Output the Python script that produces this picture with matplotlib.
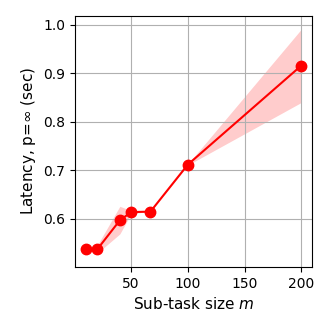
import numpy as np
import matplotlib
matplotlib.use('Agg')
import matplotlib.pyplot as plt

# Data
m = [10, 20, 40, 50, 67, 100, 200]
latency = [0.537, 0.537, 0.597, 0.614, 0.615, 0.712, 0.916]
lower = [0.537, 0.529, 0.569, 0.611, 0.615, 0.711, 0.840]
upper = [0.537, 0.545, 0.626, 0.617, 0.615, 0.713, 0.991]

fig = plt.figure(figsize=(3.32, 3.32), dpi=100)
ax = fig.add_axes([0.226, 0.196, 0.714, 0.757])

ax.fill_between(m, lower, upper, color='red', alpha=0.2, linewidth=0)
ax.plot(m, latency, color='red', marker='o', markersize=7.5, linewidth=1.5)

ax.set_xlabel('Sub-task size $m$', fontsize=11)
ax.set_ylabel('Latency, p=$\\infty$ (sec)', fontsize=11)
ax.set_xticks([50, 100, 150, 200])
ax.set_yticks([0.6, 0.7, 0.8, 0.9, 1.0])
ax.set_xlim(0.5, 209.5)
ax.set_ylim(0.501, 1.019)
ax.grid(True)

fig.savefig('out.png', dpi=100)
